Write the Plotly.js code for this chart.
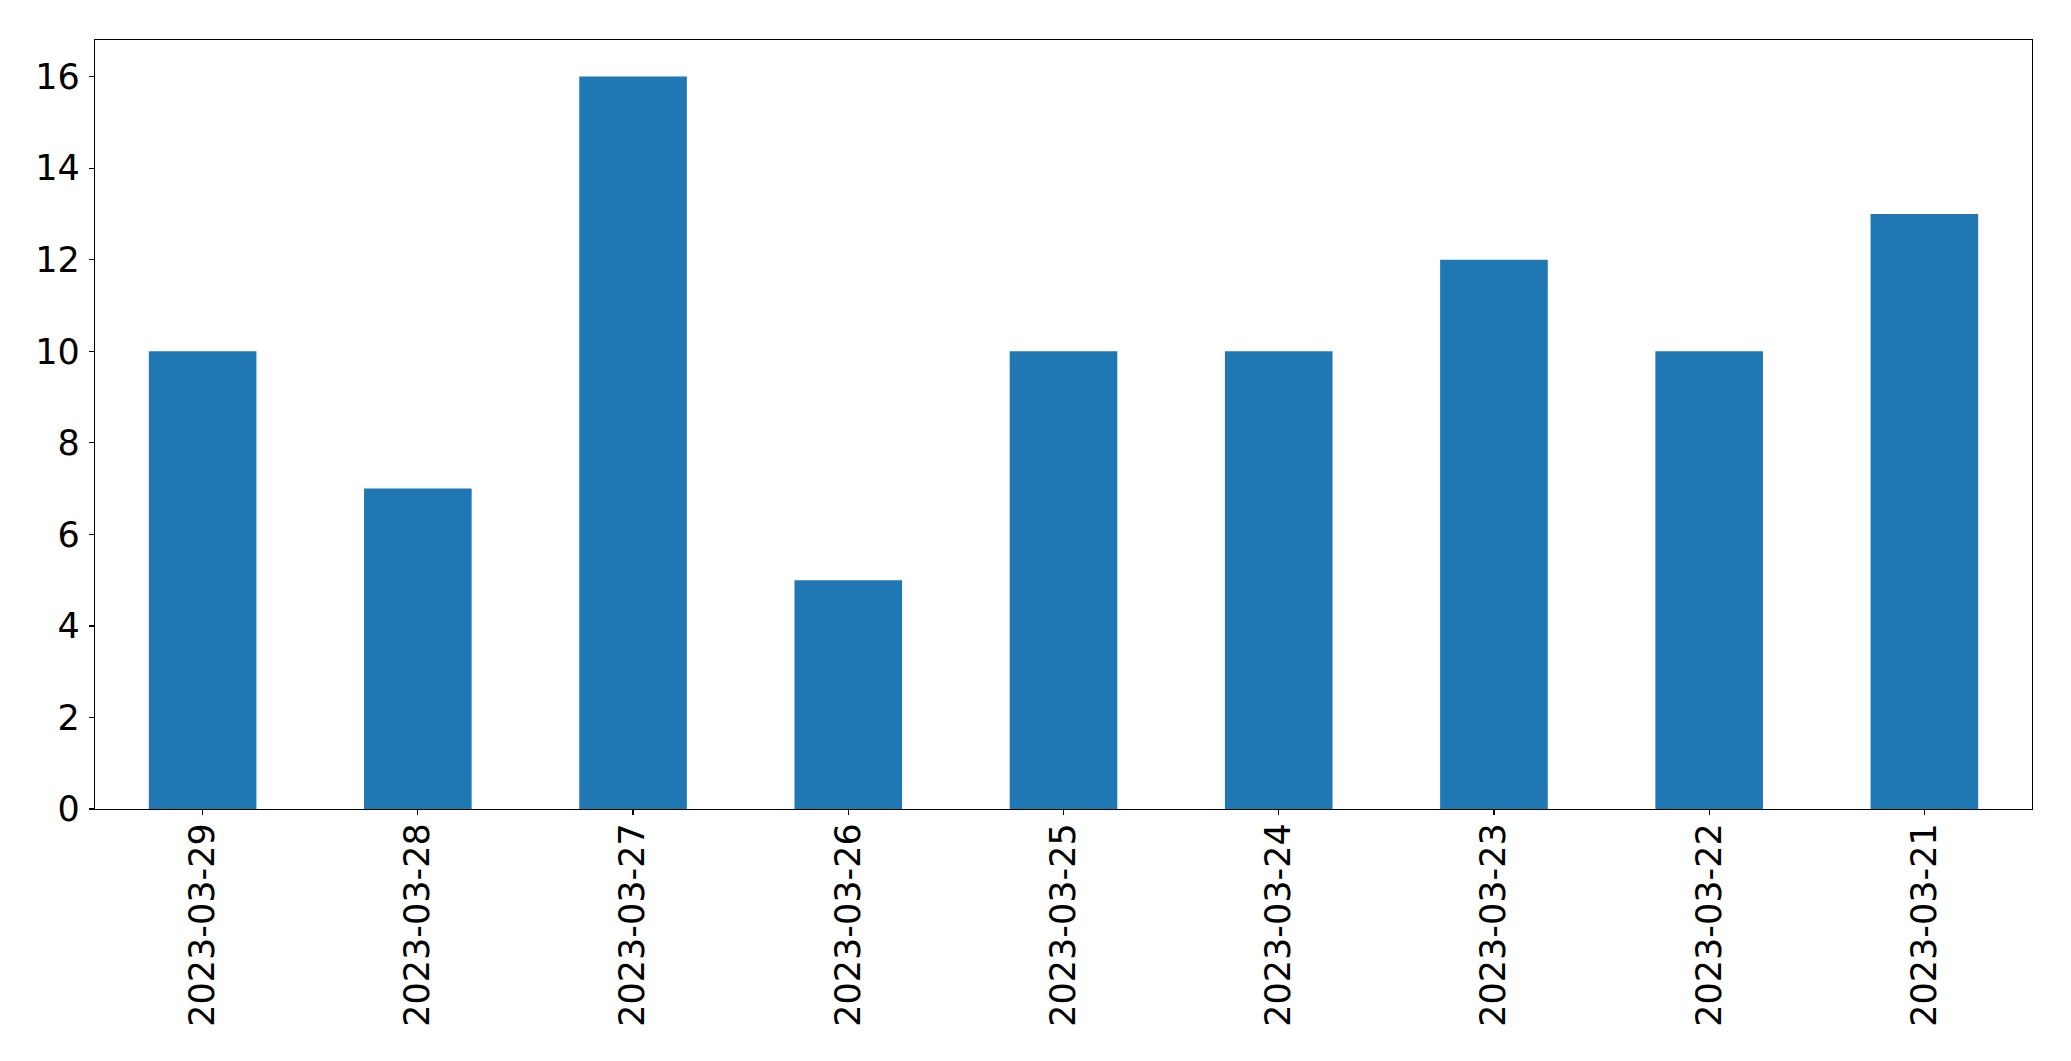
<!DOCTYPE html>
<html>
<head>
<meta charset="utf-8">
<script src="https://cdn.plot.ly/plotly-3.0.1.min.js"></script>
<style>html,body{margin:0;padding:0;background:#fff;}#chart{width:2071px;height:1061px;}</style>
</head>
<body>
<div id="chart"></div>
<script>
const dates = ["2023-03-29","2023-03-28","2023-03-27","2023-03-26","2023-03-25","2023-03-24","2023-03-23","2023-03-22","2023-03-21"];
const counts = [10, 7, 16, 5, 10, 10, 12, 10, 13];
const yTicks = [0, 2, 4, 6, 8, 10, 12, 14, 16];

Plotly.newPlot('chart', [{
  type: 'bar',
  x: dates,
  y: counts,
  width: 0.5,
  marker: {color: '#1f77b4', line: {width: 0}},
  hoverinfo: 'x+y'
}], {
  width: 2071,
  height: 1061,
  margin: {l: 94.5, r: 39, t: 39.5, b: 252, pad: 0},
  paper_bgcolor: '#fff',
  plot_bgcolor: '#fff',
  showlegend: false,
  font: {family: 'DejaVu Sans', size: 35, color: '#000'},
  xaxis: {
    type: 'category',
    range: [-0.5, 8.5],
    tickangle: -90,
    ticks: 'outside',
    ticklen: 5,
    tickwidth: 1.3,
    tickcolor: '#000',
    ticklabelstandoff: -6,
    showline: true,
    linecolor: '#000',
    linewidth: 1.3,
    mirror: true,
    showgrid: false,
    zeroline: false,
    tickfont: {family: 'DejaVu Sans', size: 35, color: '#000'}
  },
  yaxis: {
    range: [0, 16.8],
    tickvals: yTicks,
    ticktext: yTicks.map(String),
    ticks: 'outside',
    ticklen: 5,
    tickwidth: 1.3,
    tickcolor: '#000',
    ticklabelstandoff: 2,
    showline: true,
    linecolor: '#000',
    linewidth: 1.3,
    mirror: true,
    showgrid: false,
    zeroline: false,
    tickfont: {family: 'DejaVu Sans', size: 35, color: '#000'}
  }
}, {displayModeBar: false, staticPlot: true});
</script>
</body>
</html>
